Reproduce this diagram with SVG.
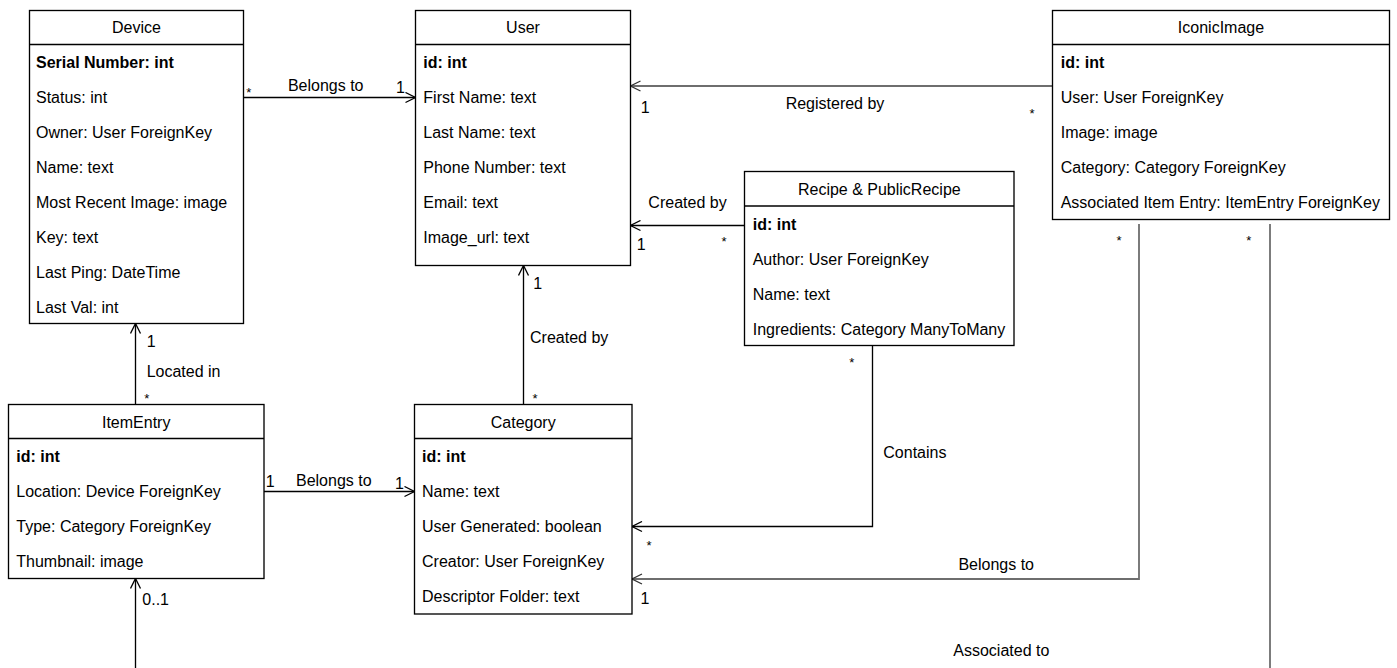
<svg xmlns="http://www.w3.org/2000/svg" width="1397" height="668" viewBox="0 0 1397 668">
  <style>
    text { font-family: "Liberation Sans", Helvetica, Arial, sans-serif; font-size: 16px; fill: #000; }
    .title { text-anchor: middle; }
    .key { font-weight: bold; }
    .mid { text-anchor: middle; }
    .star { text-anchor: middle; font-size: 13px; }
    .box { fill: #fff; stroke: #000; stroke-width: 1.33; }
    .sep { stroke: #000; stroke-width: 1.33; }
    .edge { fill: none; stroke: #000; stroke-width: 1.33; }
    .soft { stroke: #6e6e6e; stroke-width: 1.8; }
    .arrow { marker-end: url(#open); }
    .arrow-soft { marker-end: url(#open-soft); }
  </style>
  <defs>
    <marker id="open" viewBox="0 0 12 12" refX="11" refY="6" markerWidth="12" markerHeight="12" orient="auto" markerUnits="userSpaceOnUse">
      <path d="M1,1 L11,6 L1,11" fill="none" stroke="#000" stroke-width="1.33"/>
    </marker>
    <marker id="open-soft" viewBox="0 0 12 12" refX="11" refY="6" markerWidth="12" markerHeight="12" orient="auto" markerUnits="userSpaceOnUse">
      <path d="M1,1 L11,6 L1,11" fill="none" stroke="#333" stroke-width="1.33"/>
    </marker>
  </defs>
  <rect width="1397" height="668" fill="#fff"/>

  <!-- relationships -->
  <g id="connectors">
    <!-- Device -> User -->
    <path class="edge arrow" d="M243.5,97.5 H415.5"/>
    <text class="star" x="248.7" y="97">*</text>
    <text class="mid" x="325.7" y="91.4">Belongs to</text>
    <text class="mid" x="400.5" y="93">1</text>

    <!-- IconicImage -> User -->
    <path class="edge soft arrow-soft" d="M1052.5,86 H630.5"/>
    <text class="mid" x="645.3" y="113">1</text>
    <text class="mid" x="835" y="109">Registered by</text>
    <text class="star" x="1032" y="117.8">*</text>

    <!-- Recipe -> User -->
    <path class="edge arrow" d="M744.5,225.5 H630.5"/>
    <text class="mid" x="687.5" y="208">Created by</text>
    <text class="mid" x="641.2" y="250">1</text>
    <text class="star" x="724" y="245.8">*</text>

    <!-- Category -> User -->
    <path class="edge arrow" d="M523.5,404.5 V265.5"/>
    <text class="mid" x="537.8" y="289">1</text>
    <text class="mid" x="569.2" y="343">Created by</text>
    <text class="star" x="535" y="402.8">*</text>

    <!-- ItemEntry -> Device -->
    <path class="edge arrow" d="M135.5,404.5 V323.5"/>
    <text class="mid" x="151.2" y="346.7">1</text>
    <text class="mid" x="183.6" y="376.7">Located in</text>
    <text class="star" x="146.7" y="402.8">*</text>

    <!-- ItemEntry -> Category -->
    <path class="edge arrow" d="M264,491.5 H414.5"/>
    <text class="mid" x="270.2" y="487.4">1</text>
    <text class="mid" x="333.8" y="485.7">Belongs to</text>
    <text class="mid" x="399.5" y="489">1</text>

    <!-- Recipe -> Category -->
    <path class="edge arrow" d="M872.5,345.5 V526.5 H632"/>
    <text class="star" x="851.7" y="366.8">*</text>
    <text class="mid" x="914.9" y="458.4">Contains</text>
    <text class="star" x="649" y="549.8">*</text>

    <!-- IconicImage -> Category -->
    <path class="edge soft arrow-soft" d="M1139,224 V579 H632"/>
    <text class="star" x="1119" y="244.5">*</text>
    <text class="mid" x="996.2" y="570">Belongs to</text>
    <text class="mid" x="645" y="603.7">1</text>

    <!-- IconicImage -> ItemEntry (routed below the page edge) -->
    <path class="edge soft" d="M1270,224 V668"/>
    <path class="edge arrow" d="M135.5,668 V578.5"/>
    <text class="star" x="1248.7" y="244.5">*</text>
    <text class="mid" x="1001.3" y="656.4">Associated to</text>
    <text x="142.3" y="605">0..1</text>
  </g>

  <g id="device">
    <rect class="box" x="29.5" y="10.5" width="214" height="313"/>
    <line class="sep" x1="29.5" y1="44.5" x2="243.5" y2="44.5"/>
    <text class="title" x="136.5" y="33">Device</text>
    <text class="key" x="36" y="68.4">Serial Number: int</text>
    <text x="36" y="103.3">Status: int</text>
    <text x="36" y="138.2">Owner: User ForeignKey</text>
    <text x="36" y="173.1">Name: text</text>
    <text x="36" y="208">Most Recent Image: image</text>
    <text x="36" y="242.9">Key: text</text>
    <text x="36" y="277.8">Last Ping: DateTime</text>
    <text x="36" y="312.7">Last Val: int</text>
  </g>

  <g id="user">
    <rect class="box" x="415.5" y="10.5" width="215" height="255"/>
    <line class="sep" x1="415.5" y1="44.5" x2="630.5" y2="44.5"/>
    <text class="title" x="523" y="33">User</text>
    <text class="key" x="423.3" y="68.4">id: int</text>
    <text x="423.3" y="103.3">First Name: text</text>
    <text x="423.3" y="138.2">Last Name: text</text>
    <text x="423.3" y="173.1">Phone Number: text</text>
    <text x="423.3" y="208">Email: text</text>
    <text x="423.3" y="242.9">Image_url: text</text>
  </g>

  <g id="recipe">
    <rect class="box" x="744.5" y="171.5" width="269.5" height="174"/>
    <line class="sep" x1="744.5" y1="206" x2="1014" y2="206"/>
    <text class="title" x="879.3" y="194.7">Recipe &amp; PublicRecipe</text>
    <text class="key" x="752.7" y="229.7">id: int</text>
    <text x="752.7" y="264.7">Author: User ForeignKey</text>
    <text x="752.7" y="299.7">Name: text</text>
    <text x="752.7" y="334.7">Ingredients: Category ManyToMany</text>
  </g>

  <g id="iconic-image">
    <rect class="box" x="1052.5" y="10.5" width="337" height="209"/>
    <line class="sep" x1="1052.5" y1="44.5" x2="1389.5" y2="44.5"/>
    <text class="title" x="1221" y="33">IconicImage</text>
    <text class="key" x="1060.7" y="68.4">id: int</text>
    <text x="1060.7" y="103.3">User: User ForeignKey</text>
    <text x="1060.7" y="138.2">Image: image</text>
    <text x="1060.7" y="173.1">Category: Category ForeignKey</text>
    <text x="1060.7" y="208">Associated Item Entry: ItemEntry ForeignKey</text>
  </g>

  <g id="item-entry">
    <rect class="box" x="8.5" y="404.5" width="255.5" height="174"/>
    <line class="sep" x1="8.5" y1="438.5" x2="264" y2="438.5"/>
    <text class="title" x="136.2" y="428">ItemEntry</text>
    <text class="key" x="16.3" y="462.4">id: int</text>
    <text x="16.3" y="497.4">Location: Device ForeignKey</text>
    <text x="16.3" y="532.4">Type: Category ForeignKey</text>
    <text x="16.3" y="567.4">Thumbnail: image</text>
  </g>

  <g id="category">
    <rect class="box" x="414.5" y="404.5" width="217.5" height="209.5"/>
    <line class="sep" x1="414.5" y1="438.5" x2="632" y2="438.5"/>
    <text class="title" x="523.2" y="428">Category</text>
    <text class="key" x="422" y="462.4">id: int</text>
    <text x="422" y="497.4">Name: text</text>
    <text x="422" y="532.4">User Generated: boolean</text>
    <text x="422" y="567.4">Creator: User ForeignKey</text>
    <text x="422" y="602.4">Descriptor Folder: text</text>
  </g>
</svg>
